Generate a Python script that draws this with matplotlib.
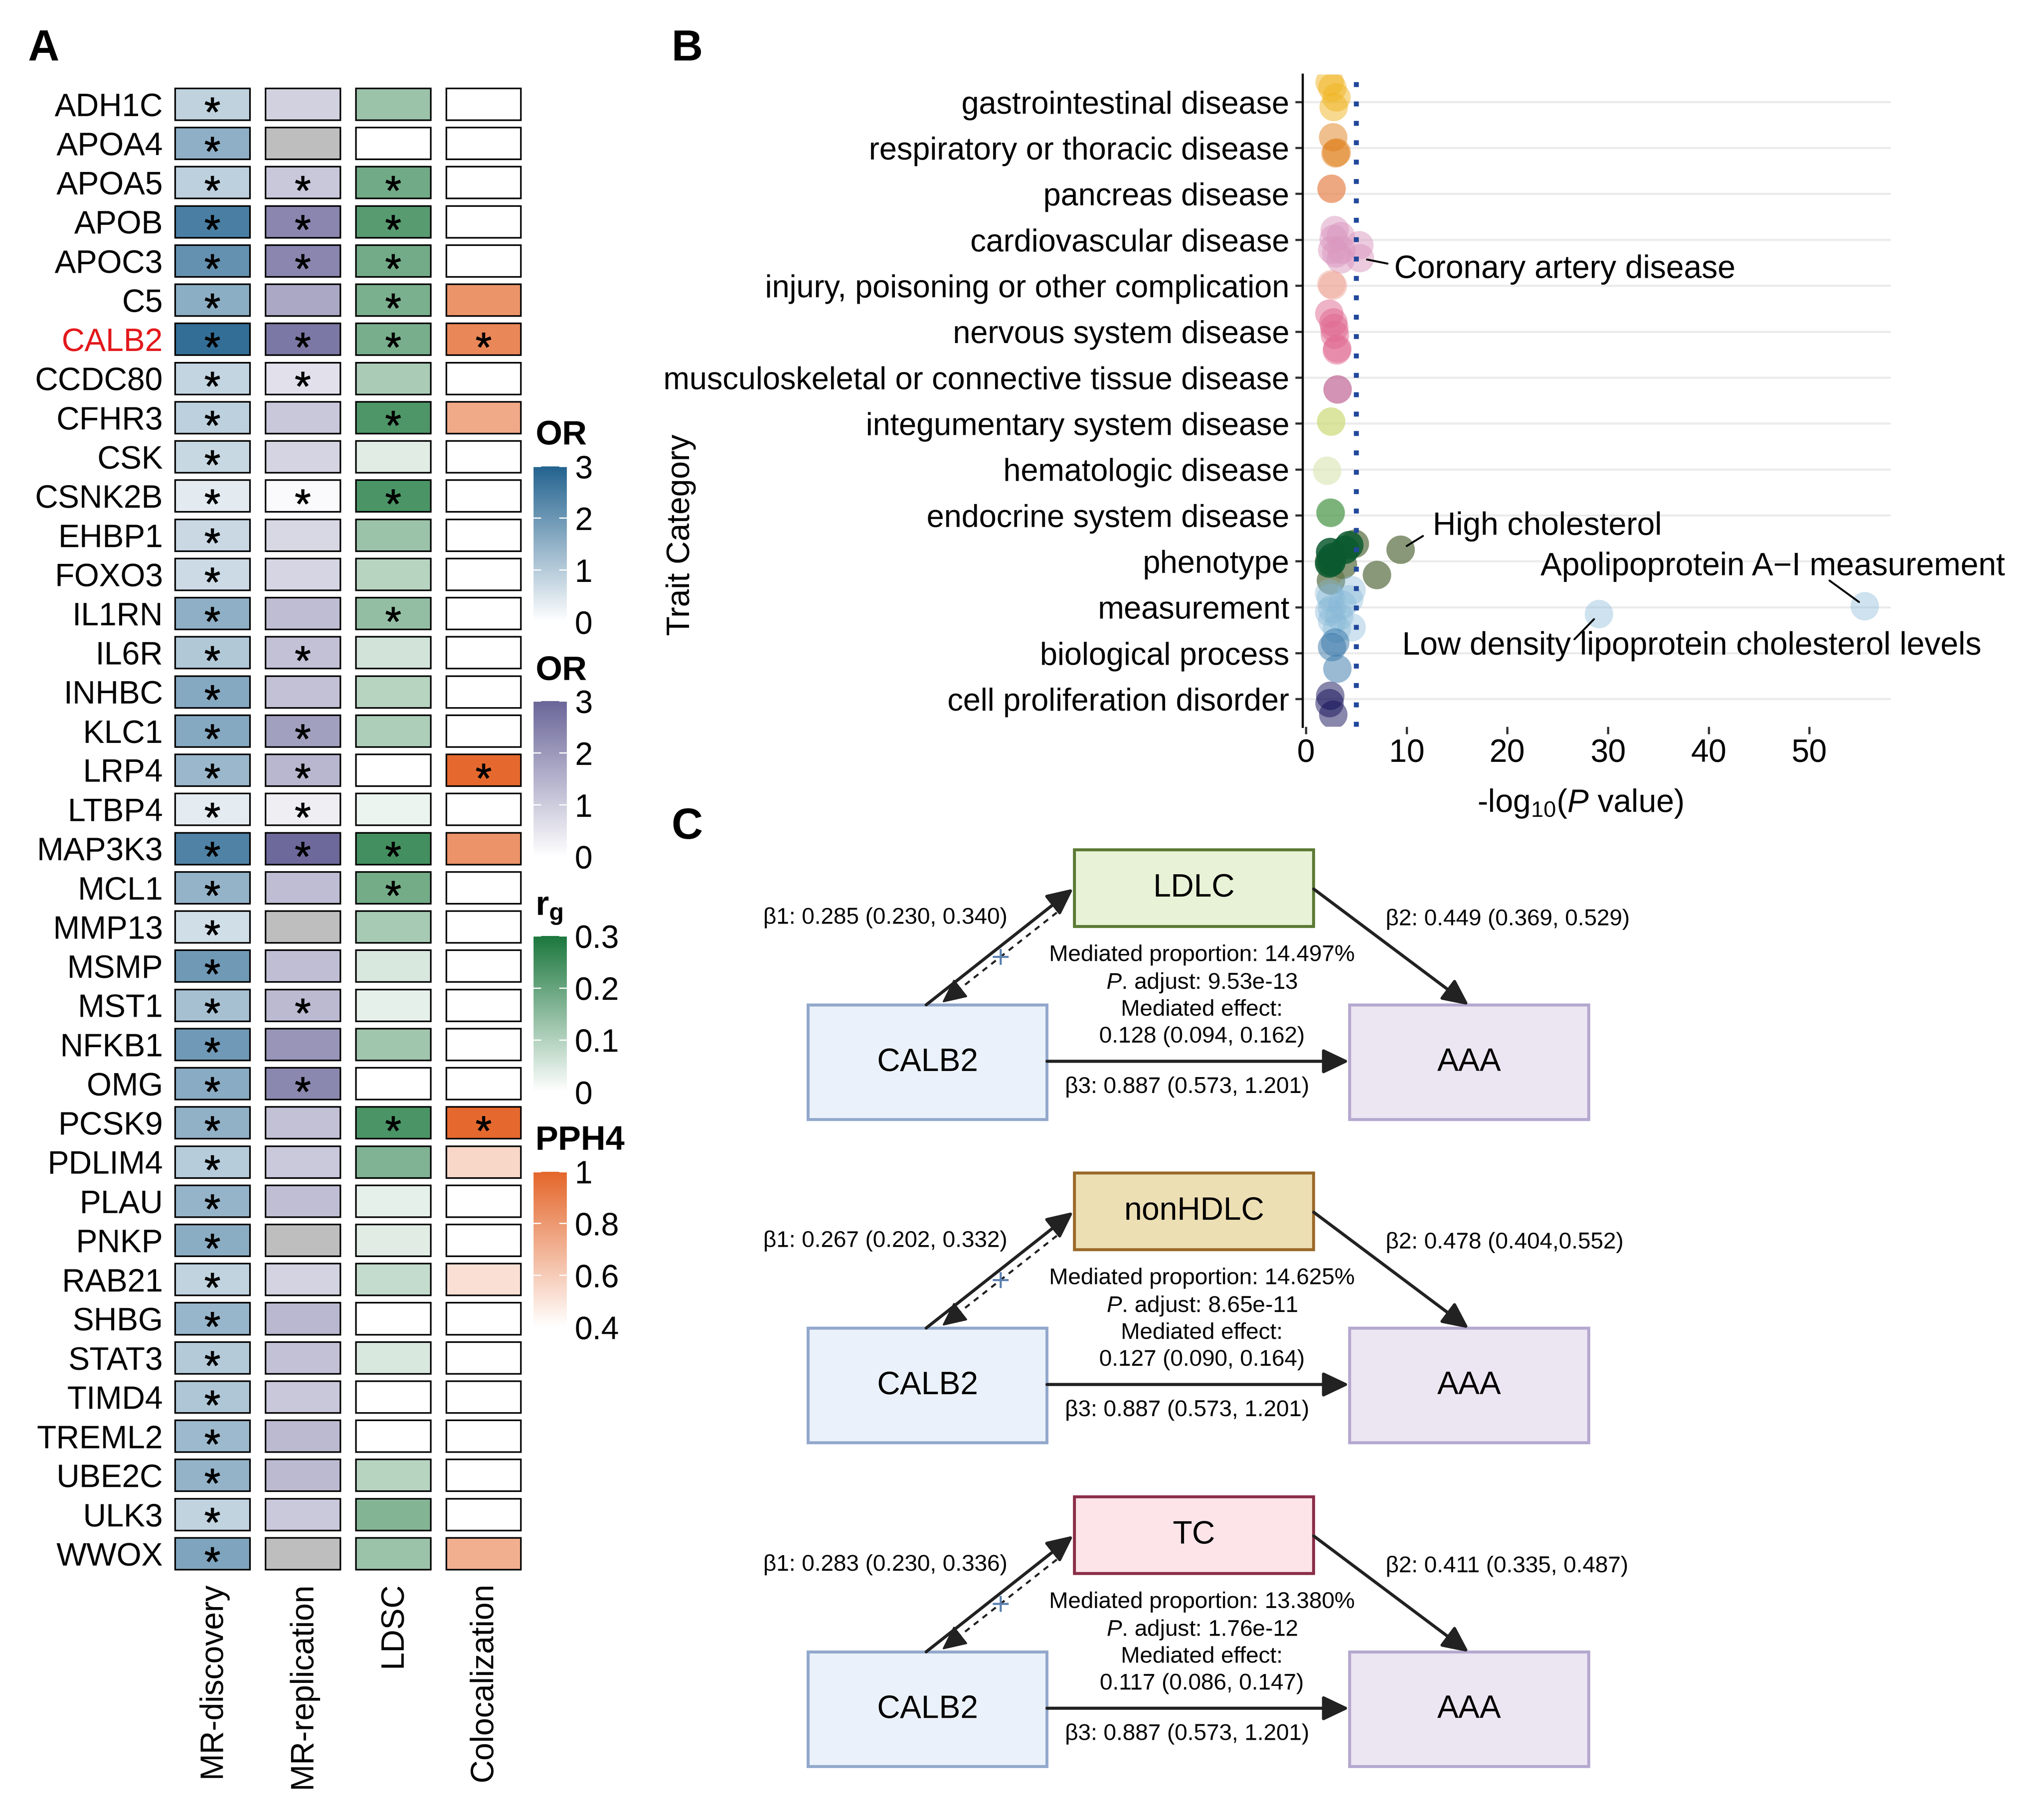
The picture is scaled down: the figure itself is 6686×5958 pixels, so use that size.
import numpy as np
import matplotlib
matplotlib.use("Agg")
import matplotlib.pyplot as plt
from matplotlib.colors import LinearSegmentedColormap, Normalize, to_rgba
from matplotlib.patches import Rectangle
from matplotlib.cm import ScalarMappable

W, H = 7457, 6645
SAVE_DPI = 269   # keeps the png under the 40 Mpx limit of the reader

plt.rcParams['font.family'] = ['Liberation Sans', 'DejaVu Sans']
plt.rcParams['mathtext.fontset'] = 'custom'
plt.rcParams['mathtext.rm'] = 'Liberation Sans'
plt.rcParams['mathtext.it'] = 'Liberation Sans:italic'
plt.rcParams['mathtext.bf'] = 'Liberation Sans:bold'

nan = np.nan

# ---------------- panel A data ----------------
genes = ['ADH1C', 'APOA4', 'APOA5', 'APOB', 'APOC3', 'C5', 'CALB2', 'CCDC80', 'CFHR3', 'CSK',
         'CSNK2B', 'EHBP1', 'FOXO3', 'IL1RN', 'IL6R', 'INHBC', 'KLC1', 'LRP4', 'LTBP4', 'MAP3K3',
         'MCL1', 'MMP13', 'MSMP', 'MST1', 'NFKB1', 'OMG', 'PCSK9', 'PDLIM4', 'PLAU', 'PNKP',
         'RAB21', 'SHBG', 'STAT3', 'TIMD4', 'TREML2', 'UBE2C', 'ULK3', 'WWOX']
methods = ['MR-discovery', 'MR-replication', 'LDSC', 'Colocalization']

or_discovery = [0.87, 1.53, 0.91, 2.47, 2.10, 1.57, 2.78, 0.82, 0.91, 0.75,
                0.38, 0.74, 0.71, 1.54, 1.06, 1.65, 1.65, 1.38, 0.37, 2.40,
                1.46, 0.64, 1.95, 1.21, 1.96, 1.61, 1.50, 0.98, 1.45, 1.58,
                0.85, 1.40, 1.02, 1.09, 1.34, 1.46, 0.85, 1.75]
or_replication = [0.91, nan, 1.09, 2.36, 2.36, 1.71, 2.64, 0.60, 1.09, 0.85,
                  0.10, 0.79, 0.83, 1.29, 1.21, 1.21, 1.87, 1.41, 0.34, 2.94,
                  1.29, nan, 1.27, 1.35, 2.07, 2.34, 1.21, 1.07, 1.27, nan,
                  0.87, 1.39, 1.21, 1.09, 1.35, 1.35, 1.07, nan]
rg_ldsc = [0.132, nan, 0.187, 0.220, 0.184, 0.174, 0.178, 0.112, 0.233, 0.042,
           0.236, 0.132, 0.095, 0.142, 0.059, 0.096, 0.108, nan, 0.025, 0.247,
           0.183, 0.117, 0.051, 0.033, 0.125, nan, 0.236, 0.167, 0.033, 0.042,
           0.078, nan, 0.051, nan, nan, 0.096, 0.164, 0.132]
pph4_coloc = [nan, nan, nan, nan, nan, 0.82, 0.87, nan, 0.735, nan,
              nan, nan, nan, nan, nan, nan, nan, 0.986, nan, 0.823,
              nan, nan, nan, nan, nan, nan, 0.986, 0.555, nan, nan,
              0.52, nan, nan, nan, nan, nan, nan, 0.715]

sig_discovery = list(genes)
sig_replication = ['APOA5', 'APOB', 'APOC3', 'CALB2', 'CCDC80', 'CSNK2B', 'IL6R', 'KLC1',
                   'LRP4', 'LTBP4', 'MAP3K3', 'MST1', 'OMG']
sig_ldsc = ['APOA5', 'APOB', 'APOC3', 'C5', 'CALB2', 'CFHR3', 'CSNK2B', 'IL1RN', 'MAP3K3',
            'MCL1', 'PCSK9']
sig_coloc = ['CALB2', 'LRP4', 'PCSK9']

high_colors = ['#23638F', '#6A6699', '#1B773D', '#E4662A']
na_colors = ['white', '#BEBEBE', 'white', 'white']
scale_lims = [(0, 3), (0, 3), (0, 0.3), (0.4, 1)]
bar_ticks = [[0, 1, 2, 3], [0, 1, 2, 3], [0, 0.1, 0.2, 0.3], [0.4, 0.6, 0.8, 1]]
bar_ticklabels = [['0', '1', '2', '3'], ['0', '1', '2', '3'],
                  ['0', '0.1', '0.2', '0.3'], ['0.4', '0.6', '0.8', '1']]
bar_titles = ['OR', 'OR', r'$\mathbf{r}_{\mathbf{g}}$', 'PPH4']

# ---------------- panel B data ----------------
categories = ['gastrointestinal disease', 'respiratory or thoracic disease', 'pancreas disease',
              'cardiovascular disease', 'injury, poisoning or other complication',
              'nervous system disease', 'musculoskeletal or connective tissue disease',
              'integumentary system disease', 'hematologic disease', 'endocrine system disease',
              'phenotype', 'measurement', 'biological process', 'cell proliferation disorder']
cat_colors = ['#F1B521', '#E1811D', '#E7834C', '#DB99C1', '#EFA99B', '#E16991', '#C06595',
              '#CDDB77', '#DEE9BC', '#509B50', '#0B5A2F', '#86B8D7', '#3777A9', '#14105A']
cat_alpha = [0.5, 0.5, 0.7, 0.5, 0.5, 0.5, 0.7, 0.7, 0.7, 0.5, 0.85, 0.4, 0.5, 0.5]
alt_color = '#61764B'   # second shade used inside "phenotype"
alt_alpha = 0.75

point_cat = [0, 0, 0, 0,
             1, 1, 1,
             2,
             3, 3, 3, 3, 3, 3, 3, 3, 3,
             4, 4,
             5, 5, 5, 5, 5, 5,
             6, 7, 8, 9, 9,
             10, 10, 10, 10, 10, 10, 10, 10, 10, 10, 10, 10,
             11, 11, 11, 11, 11, 11, 11, 11, 11, 11, 11, 11, 11,
             12, 12, 12,
             13, 13, 13]
point_logp = [2.35, 2.62, 3.02, 2.75,
              2.70, 3.05, 2.93,
              2.54,
              2.86, 2.75, 3.45, 5.30, 2.60, 3.50, 3.00, 5.36, 3.45,
              2.52, 2.67,
              2.32, 2.72, 2.81, 2.87, 3.11, 3.07,
              3.14, 2.50, 2.10, 2.42, 2.47,
              3.88, 2.40, 2.65, 2.53, 2.30, 4.30, 4.85, 3.67, 2.48, 2.30, 9.40, 7.05,
              4.53, 2.47, 4.29, 2.59, 2.59, 4.53, 3.07, 2.30, 3.30, 2.30, 3.60, 29.1, 55.5,
              2.59, 2.90, 3.12,
              2.41, 2.34, 2.71]
point_jitter = [-0.43, -0.31, -0.10, 0.11,
                -0.23, 0.10, 0.12,
                -0.11,
                -0.21, -0.02, -0.08, 0.12, 0.22, 0.22, 0.30, 0.40, 0.43,
                -0.03, 0.00,
                -0.39, -0.20, -0.08, 0.07, 0.37, 0.41,
                0.26, -0.04, 0.03, -0.06, -0.05,
                -0.25, -0.20, -0.09, 0.02, 0.05, -0.35, -0.38, 0.08, 0.42, 0.00, -0.25, 0.30,
                -0.37, -0.20, -0.17, 0.04, 0.30, 0.44, 0.47, 0.10, 0.20, -0.30, -0.05, 0.15, -0.02,
                -0.13, -0.23, 0.34,
                -0.07, 0.09, 0.34]
point_alt = [0] * 36 + [1, 1, 1, 1, 1, 1] + [0] * 19
threshold = 5.0

ann_text = ['Coronary artery disease', 'High cholesterol', 'Apolipoprotein A\u2212I measurement',
            'Low density lipoprotein cholesterol levels']
ann_point = [15, 40, 54, 53]
ann_label_xy = [(8.75, 4.645), (12.6, 10.24), (23.3, 11.12), (9.55, 12.85)]
ann_seg_end = [(8.1, 4.52), (11.62, 10.45), (51.99, 11.42), (26.66, 12.70)]

# ---------------- panel C data ----------------
mediators = ['LDLC', 'nonHDLC', 'TC']
med_fill = ['#E8F2D6', '#EDDFB4', '#FCE4E8']
med_edge = ['#5B7A35', '#9A6A2A', '#8B2E48']
beta1 = ['\u03b21: 0.285 (0.230, 0.340)', '\u03b21: 0.267 (0.202, 0.332)', '\u03b21: 0.283 (0.230, 0.336)']
beta2 = ['\u03b22: 0.449 (0.369, 0.529)', '\u03b22: 0.478 (0.404,0.552)', '\u03b22: 0.411 (0.335, 0.487)']
med_prop = ['14.497%', '14.625%', '13.380%']
p_adjust = ['9.53e-13', '8.65e-11', '1.76e-12']
med_effect = ['0.128 (0.094, 0.162)', '0.127 (0.090, 0.164)', '0.117 (0.086, 0.147)']
beta3 = ['\u03b23: 0.887 (0.573, 1.201)'] * 3
diag_offset = [0, 1180, 2362]


def rect(x0, y0, x1, y1):
    return [x0 / W, 1 - y1 / H, (x1 - x0) / W, (y1 - y0) / H]


fig = plt.figure(figsize=(W / 300, H / 300), dpi=300)

# ================= panel A =================
axA = fig.add_axes(rect(610.5, 309, 1930.5, 5744))
axA.set_xlim(-0.5, 3.5)
axA.set_ylim(37.5, -0.5)
cmaps = [LinearSegmentedColormap.from_list('c%d' % k, ['#FFFFFF', c]) for k, c in enumerate(high_colors)]
norms = [Normalize(lo, hi) for lo, hi in scale_lims]
columns = [or_discovery, or_replication, rg_ldsc, pph4_coloc]
stars = [sig_discovery, sig_replication, sig_ldsc, sig_coloc]
tw, th = 0.827, 0.811
star_x, star_y = [], []
for j, vals in enumerate(columns):
    for i, v in enumerate(vals):
        fc = na_colors[j] if np.isnan(v) else cmaps[j](norms[j](v))
        axA.add_patch(Rectangle((j - tw / 2, i - th / 2), tw, th, facecolor=fc,
                                edgecolor='black', lw=1.4))
        if genes[i] in stars[j]:
            star_x.append(j)
            star_y.append(i)
# significance marks drawn as asterisk-glyph markers
axA.scatter(star_x, np.array(star_y) + 0.02, marker='$*$', s=13 ** 2, c='black',
            edgecolors='black', linewidths=0.5, zorder=3)
for s in axA.spines.values():
    s.set_visible(False)
axA.set_yticks(range(len(genes)))
axA.set_yticklabels(genes, fontsize=28)
axA.set_xticks(range(4))
axA.set_xticklabels(methods, rotation=90, fontsize=28)
axA.tick_params(axis='y', length=0, pad=3.7)
axA.tick_params(axis='x', length=0, pad=8)
for lab in axA.get_yticklabels():
    if lab.get_text() == 'CALB2':
        lab.set_color('#E3191C')

# colour bars
bar_pos = [(1703, 2271), (2560, 3128), (3418, 3987), (4278, 4846)]
title_y = [1590, 2450, 3322, 4165]
for k in range(4):
    cax = fig.add_axes(rect(1948, bar_pos[k][0], 2070, bar_pos[k][1]))
    cb = fig.colorbar(ScalarMappable(norm=norms[k], cmap=cmaps[k]), cax=cax)
    cb.outline.set_visible(False)
    cb.set_ticks(bar_ticks[k])
    cb.set_ticklabels(bar_ticklabels[k])
    cax.tick_params(axis='y', direction='in', length=6.7, width=1.1, color='white',
                    left=True, right=True, labelleft=False, labelright=True,
                    labelsize=28, pad=7)
    fig.text(1955 / W, 1 - title_y[k] / H, bar_titles[k], fontsize=30, fontweight='bold',
             ha='left', va='center')

# ================= panel B =================
axB = fig.add_axes(rect(4756, 272, 6905, 2653))
yy = np.array(point_cat) + 1 + np.array(point_jitter)
cols = [to_rgba(alt_color, alt_alpha) if a else to_rgba(cat_colors[c], cat_alpha[c])
        for c, a in zip(point_cat, point_alt)]
# olive phenotype points sit underneath the dark green ones
order = np.argsort(-np.array(point_alt), kind='stable')
axB.scatter(np.array(point_logp)[order], yy[order], s=620, c=[cols[i] for i in order],
            linewidths=0, zorder=3)
axB.axvline(threshold, color='#21489B', lw=4.3, linestyle=(0, (1, 2.95)), zorder=4)
axB.set_xlim(-0.35, 58.1)
axB.set_ylim(14.6, 0.4)
axB.set_yticks(range(1, 15))
axB.set_yticklabels(categories, fontsize=27.5)
axB.set_xticks([0, 10, 20, 30, 40, 50])
axB.tick_params(axis='x', labelsize=28, length=6.5, width=1.9, color='#333333', pad=3.8)
axB.tick_params(axis='y', length=6.5, width=1.9, color='#333333', pad=5)
axB.yaxis.grid(True, color='#EBEBEB', lw=1.8)
axB.set_axisbelow(True)
for s in ['top', 'right', 'bottom']:
    axB.spines[s].set_visible(False)
axB.spines['left'].set_linewidth(1.9)
axB.text(-1.056, 0.294, 'Trait Category', transform=axB.transAxes, rotation=90,
         fontsize=28, ha='center', va='center')
axB.text(0.472, -0.118, r'-log$_{10}$($\mathit{P}$ value)', transform=axB.transAxes,
         fontsize=28, ha='center', va='center')

# repel-style labels
sx = 2149 / (58.1 + 0.35)
sy = 2381 / 14.2
for txt, pi, lxy, se in zip(ann_text, ann_point, ann_label_xy, ann_seg_end):
    px, py = point_logp[pi], yy[pi]
    dx, dy = (se[0] - px) * sx, (se[1] - py) * sy
    d = np.hypot(dx, dy)
    st = (px + dx / d * 26 / sx, py + dy / d * 26 / sy)
    axB.plot([st[0], se[0]], [st[1], se[1]], color='black', lw=1.7, zorder=5,
             solid_capstyle='round')
    axB.text(lxy[0], lxy[1], txt, fontsize=28, ha='left', va='center', zorder=5)

# ================= overlay: panel labels and panel C =================
ov = fig.add_axes([0, 0, 1, 1])
ov.set_xlim(0, W)
ov.set_ylim(H, 0)
ov.axis('off')
for lab, (x, y) in zip(['A', 'B', 'C'], [(159, 180), (2509, 180), (2509, 3021)]):
    ov.text(x, y, lab, fontsize=38, fontweight='bold', ha='center', va='center')

ink = '#222222'
head = '-|>,head_length=0.4,head_width=0.19'


def arrow(x0, y0, x1, y1, lw=2.7):
    ov.annotate('', xy=(x1, y1), xytext=(x0, y0),
                arrowprops=dict(arrowstyle=head, mutation_scale=48, lw=lw, color=ink,
                                shrinkA=0, shrinkB=0))


def box(x0, y0, x1, y1, fc, ec, label):
    ov.add_patch(Rectangle((x0, y0), x1 - x0, y1 - y0, facecolor=fc, edgecolor=ec,
                           lw=2.6, joinstyle='miter'))
    ov.text((x0 + x1) / 2, (y0 + y1) / 2, label, fontsize=28, ha='center', va='center')


fs_c = 20
for k, off in enumerate(diag_offset):
    box(3923, 3103 + off, 4797, 3383 + off, med_fill[k], med_edge[k], mediators[k])
    box(2951, 3670 + off, 3823, 4088 + off, '#EAF1FA', '#92A8CC', 'CALB2')
    box(4928, 3670 + off, 5802, 4088 + off, '#ECE5F2', '#B4A8CF', 'AAA')
    arrow(3382, 3669 + off, 3919, 3245 + off)
    arrow(4797, 3246 + off, 5363, 3670 + off)
    arrow(3823, 3875 + off, 4926, 3875 + off)
    # dashed reverse arrow
    ov.plot([3859, 3470], [3332 + off, 3638 + off], color=ink, lw=1.8, dashes=(2.8, 2.6))
    ov.annotate('', xy=(3440, 3661 + off), xytext=(3460, 3645.3 + off),
                arrowprops=dict(arrowstyle=head, mutation_scale=46, lw=1.5, color=ink,
                                shrinkA=0, shrinkB=0))
    ov.plot([3653], [3493 + off], marker='+', markersize=14, mew=1.8, color='#5A80B0')
    ov.text(2787, 3351 + off, beta1[k], fontsize=fs_c, ha='left', va='center')
    ov.text(5060, 3356 + off, beta2[k], fontsize=fs_c, ha='left', va='center')
    ov.text(4389, 3487 + off, 'Mediated proportion: ' + med_prop[k], fontsize=fs_c,
            ha='center', va='center')
    ov.text(4389, 3588 + off, r'$\mathit{P}$. adjust: ' + p_adjust[k], fontsize=fs_c,
            ha='center', va='center')
    ov.text(4389, 3686 + off, 'Mediated effect:', fontsize=fs_c, ha='center', va='center')
    ov.text(4389, 3785 + off, med_effect[k], fontsize=fs_c, ha='center', va='center')
    ov.text(4335, 3969 + off, beta3[k], fontsize=fs_c, ha='center', va='center')

fig.savefig('out.png', dpi=SAVE_DPI)
